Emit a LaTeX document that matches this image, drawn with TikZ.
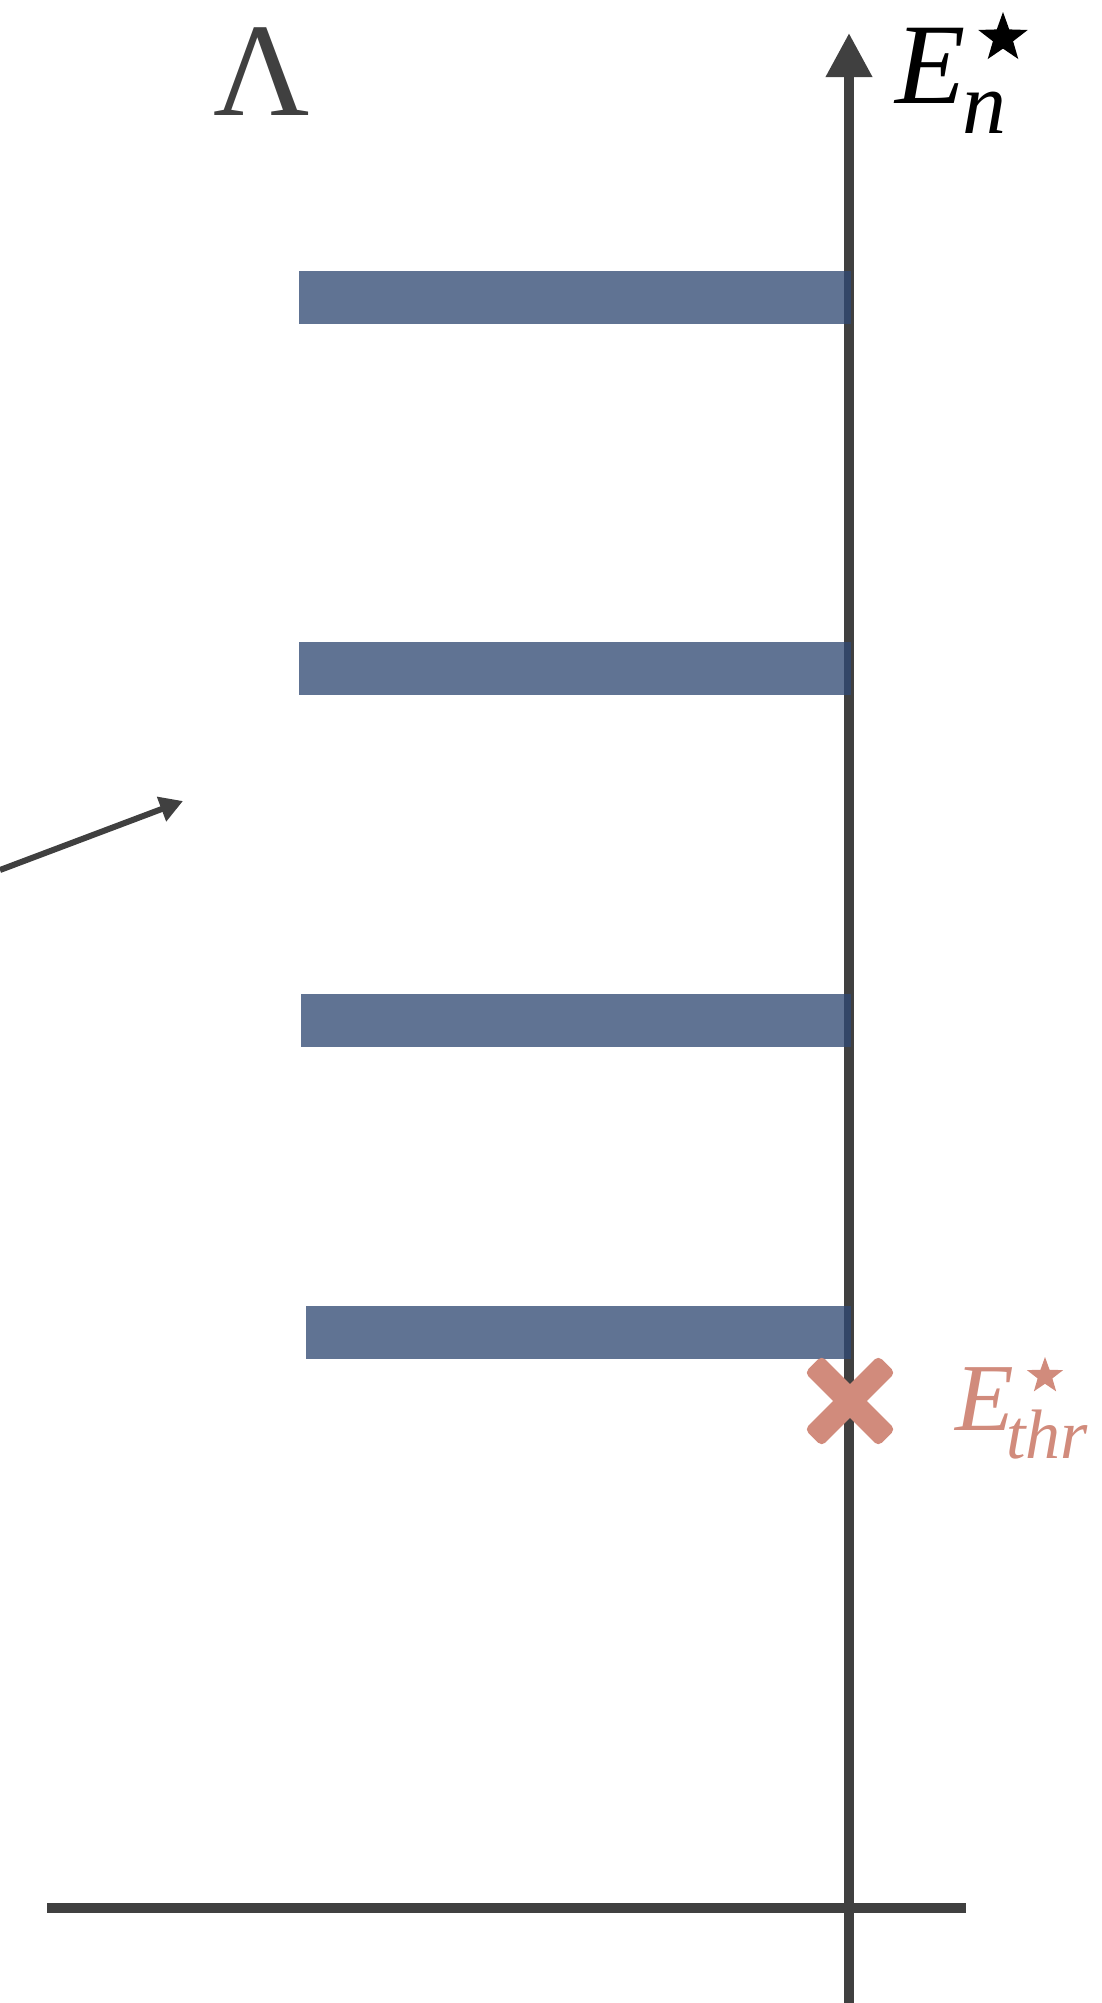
\documentclass[tikz,border=0pt]{standalone}
\usepackage{fontspec}
\setmainfont{Liberation Serif}
\usetikzlibrary{arrows.meta,shapes.geometric}
\definecolor{axgray}{RGB}{64,64,64}
\definecolor{barblue}{RGB}{48,73,115}
\definecolor{salmon}{RGB}{209,139,124}
\begin{document}
\begin{tikzpicture}[x=1pt,y=-1pt,
  levelbar/.style={draw=none, fill=barblue, fill opacity=0.77, rectangle, inner sep=0pt, anchor=north west, minimum height=53pt},
  axisline/.style={draw=axgray, line width=10pt},
  starmark/.style={star, star points=5, star point ratio=2.45, inner sep=0pt, draw=none},
  crossarm/.style={rectangle, fill=salmon, draw=none, inner sep=0pt, minimum width=104pt, minimum height=24pt, rounded corners=5pt},
  lbl/.style={inner sep=0pt, anchor=base west}
]
\useasboundingbox (0,0) rectangle (1101,2003);

% vertical axis
\coordinate (axbot) at (849,2003);
\coordinate (axtop) at (849,33);
\draw[axisline, -{Triangle[length=44pt,width=44pt]}] (axbot) -- (axtop);

% horizontal base line
\coordinate (hl) at (47,1908);
\coordinate (hr) at (966,1908);
\draw[draw=axgray, line width=10.7pt] (hl) -- (hr);

% level bars
\node[levelbar, minimum width=552pt] (b1) at (299,271) {};
\node[levelbar, minimum width=552pt] (b2) at (299,642) {};
\node[levelbar, minimum width=550pt] (b3) at (301,994) {};
\node[levelbar, minimum width=545pt] (b4) at (306,1306) {};

% oblique arrow
\coordinate (os) at (0,870);
\coordinate (ot) at (183,801);
\draw[draw=axgray, line width=6pt, -{Triangle[length=23pt,width=25pt]}] (os) -- (ot);

% threshold cross
\node[crossarm, rotate=45] (xarm1) at (850,1401) {};
\node[crossarm, rotate=-45] (xarm2) at (850,1401) {};

% Lambda
\node[inner sep=0pt, anchor=base, text=axgray, font=\fontsize{133}{133}\selectfont] (lam) at (262,115) {Λ};

% E_n^star
\node[lbl, font=\fontsize{115}{115}\selectfont\itshape] (En) at (895,103) {E};
\node[lbl, font=\fontsize{88}{88}\selectfont\itshape] (nsub) at (962,133) {n};
\node[starmark, fill=black, minimum size=52pt] (st1) at (1003,38) {};

% E_thr^star
\node[lbl, text=salmon, font=\fontsize{96}{96}\selectfont\itshape] (Ethr) at (955,1430) {E};
\node[lbl, text=salmon, font=\fontsize{70}{70}\selectfont\itshape] (thr) at (1006,1458) {thr};
\node[starmark, fill=salmon, minimum size=38pt] (st2) at (1045,1376) {};
\end{tikzpicture}
\end{document}
